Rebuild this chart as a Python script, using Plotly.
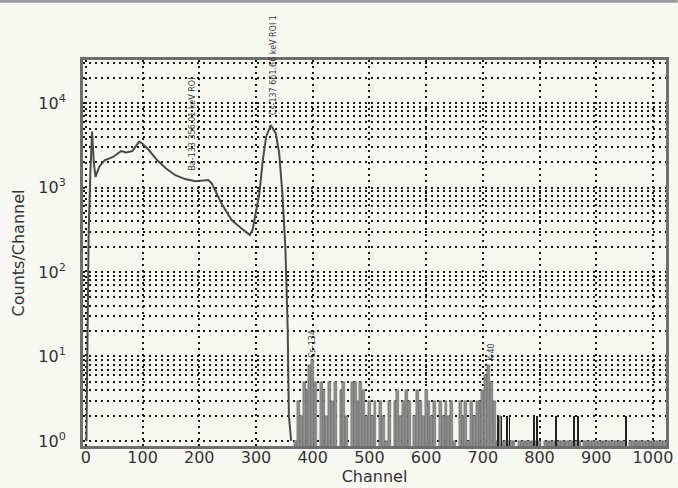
import math
import plotly.graph_objects as go

# ---- continuum (channels 0-365) ----
cont_ch = [1, 3, 5, 8, 11, 14, 17, 24, 33, 48, 62, 71, 82, 94, 100, 111, 126, 141,
           158, 175, 193, 216, 222, 239, 257, 274, 289, 294, 306, 312, 318, 326,
           335, 341, 347, 352, 356, 358, 362]
cont_counts = [1, 30, 300, 1500, 4600, 2000, 1340, 1780, 2100, 2300, 2700, 2600, 2700,
               3500, 3300, 2780, 2100, 1690, 1400, 1260, 1190, 1230, 1120, 650, 412,
               330, 275, 315, 850, 2100, 4000, 5500, 4370, 2530, 780, 182, 20, 2, 1]

# ---- noisy region, 5-channel bins ----
noise_ch = list(range(370, 1021, 5))
noise_counts = [1, 3, 2, 5, 4, 8, 9, 5, 0, 5, 4, 2, 5, 3, 5, 0, 4, 5, 2, 0,
                5, 5, 3, 5, 4, 2, 3, 2, 3, 0, 3, 2, 1, 3, 0, 3, 4, 2, 3, 4,
                3, 0, 2, 4, 3, 2, 4, 3, 2, 3, 0, 3, 2, 3, 2, 3, 1, 0, 3, 2,
                3, 1, 3, 2, 3, 3, 4, 6, 8, 5, 3, 1, 2, 1,
                1, 1, 1, 1, 0, 1, 1, 1, 1, 1, 1, 1, 1, 0, 1, 1, 1, 1, 1, 1,
                1, 1, 1, 1, 1, 1, 1, 0, 1, 1, 1, 1, 1, 1, 1, 1, 1, 1, 1, 1,
                1, 1, 1, 0, 1, 1, 1, 1, 1, 1, 1, 1, 1, 1, 1, 1, 1]

# ---- isolated 2-count channels in the tail ----
spike_ch = [727, 733, 742, 747, 791, 796, 829, 861, 868, 953]
spike_counts = [2, 2, 2, 2, 2, 2, 2, 2, 2, 2]

# ---- marker labels ----
mark_ch = [188, 330, 400, 716]
mark_level = [1500, 6800, 9.0, 8.5]
mark_text = ["Ba-133 356.01 keV ROI", "Cs-137 661.66 keV ROI 1", "Cs-134", "K-40"]

x_ticks = [0, 100, 200, 300, 400, 500, 600, 700, 800, 900, 1000]
decades = [1, 10, 100, 1000, 10000]
decade_text = ["10<sup>0</sup>", "10<sup>1</sup>", "10<sup>2</sup>", "10<sup>3</sup>", "10<sup>4</sup>"]
mantissas = [1, 2, 3, 4, 5, 6, 7, 8, 9]

y_tickvals, y_ticktext = [], []
for d, t in zip(decades, decade_text):
    for m in mantissas:
        y_tickvals.append(d * m)
        y_ticktext.append(t if m == 1 else "")

nx = [c for c, v in zip(noise_ch, noise_counts) if v > 0]
ny = [v for v in noise_counts if v > 0]

fig = go.Figure()
fig.add_trace(go.Bar(x=nx, y=ny, width=5, marker=dict(color="#8e8e8e", line=dict(width=0.4, color="#555555")),
                     showlegend=False))
fig.add_trace(go.Bar(x=spike_ch, y=spike_counts, width=1.6, marker=dict(color="#222222", line=dict(width=0)),
                     showlegend=False))
fig.add_trace(go.Scatter(x=cont_ch, y=cont_counts, mode="lines",
                         line=dict(color="#4a4a4a", width=2), showlegend=False))

for c, lv, t in zip(mark_ch, mark_level, mark_text):
    fig.add_annotation(x=c, y=math.log10(lv), yref="y", xref="x", text=t, showarrow=False,
                       textangle=-90, yanchor="bottom", xanchor="center",
                       font=dict(family="DejaVu Sans", size=8, color="#3a3a3a"))

GRID = "#1a1a1a"
fig.update_layout(
    width=678, height=488,
    margin=dict(l=83, r=5, t=60, b=42),
    paper_bgcolor="#f8f8f3", plot_bgcolor="#f8f8f3",
    bargap=0, barmode="overlay",
    font=dict(family="DejaVu Sans", size=16, color="#333333"),
    xaxis=dict(range=[-5, 1023], tickvals=x_ticks, showgrid=True, gridcolor=GRID,
               griddash="2px,4px", gridwidth=2, zeroline=False, showline=True,
               linecolor="#6e6e6e", linewidth=3, mirror=True, ticks="",
               ticklabelstandoff=-5, tickfont=dict(size=16),
               title=dict(text="Channel", standoff=0, font=dict(size=16))),
    yaxis=dict(type="log", range=[-0.06, 4.51], tickvals=y_tickvals, ticktext=y_ticktext,
               showgrid=True, gridcolor=GRID, griddash="2px,4px", gridwidth=2,
               zeroline=False, showline=True, linecolor="#6e6e6e", linewidth=3, mirror=True,
               ticks="", ticklabelstandoff=11, tickfont=dict(size=16),
               title=dict(text="Counts/Channel", standoff=10, font=dict(size=16))),
)
fig.add_shape(type="line", xref="paper", yref="paper", x0=-0.15, x1=1.02, y0=1.152, y1=1.152,
              line=dict(color="#9a9a9a", width=3))
fig.write_html("out.html", config={"displayModeBar": False},
               post_script="document.body.style.margin='0';document.body.style.overflow='hidden';")
